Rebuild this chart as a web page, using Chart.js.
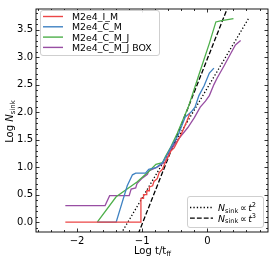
<!DOCTYPE html>
<html><head><meta charset="utf-8">
<script src="https://cdn.jsdelivr.net/npm/chart.js@4"></script>
<style>html,body{margin:0;padding:0;background:#fff}#wrap{width:274px;height:262px}</style>
</head><body><div id="wrap"><canvas id="c" width="274" height="262"></canvas></div>
<script>
// ---- data ----
const seriesLabels = ['M2e4_I_M', 'M2e4_C_M', 'M2e4_C_M_J', 'M2e4_C_M_J BOX'];
const redX = [-2.18,-1.02,-1.02,-0.98,-0.98,-0.93,-0.93,-0.89,-0.89,-0.84,-0.82,-0.77,-0.74,-0.69,-0.64,-0.56,-0.51,-0.40,-0.31,-0.27];
const redY = [0,0,0.43,0.43,0.50,0.50,0.57,0.57,0.64,0.66,0.74,0.79,0.90,0.96,1.10,1.29,1.35,1.60,1.85,1.97];
const blueX = [-1.69,-1.40,-1.23,-1.15,-1.10,-0.95,-0.90,-0.79,-0.69,-0.62,-0.56,-0.45,-0.34,-0.25,-0.19,-0.13,-0.05,0.03,0.10];
const blueY = [0,0,0.66,0.86,0.89,0.89,0.96,0.99,1.08,1.22,1.36,1.58,1.91,2.00,2.09,2.30,2.48,2.71,2.80];
const greenX = [-1.69,-1.40,-1.08,-0.90,-0.79,-0.69,-0.64,-0.56,-0.46,-0.29,-0.13,0.03,0.13,0.20,0.40];
const greenY = [0,0.46,0.73,0.92,1.05,1.08,1.20,1.37,1.62,2.10,2.68,3.25,3.64,3.66,3.70];
const purpleX = [-2.18,-1.57,-1.50,-1.20,-1.17,-1.10,-1.08,-1.00,-0.92,-0.90,-0.77,-0.64,-0.56,-0.45,-0.30,-0.20,-0.11,-0.03,0.03,0.10,0.15,0.25,0.36,0.43,0.51];
const purpleY = [0.30,0.30,0.48,0.48,0.60,0.62,0.70,0.80,0.87,0.93,1.00,1.10,1.32,1.50,1.72,1.90,2.09,2.20,2.30,2.50,2.62,2.83,3.07,3.22,3.30];
const sq2X = [-1.35, 0.63];   // N ∝ t^2 guide (dotted)
const sq2Y = [-0.26, 3.70];
const cu3X = [-1.10, 0.33];   // N ∝ t^3 guide (dashed)
const cu3Y = [-0.33, 3.96];
const xTicks = [-2, -1, 0];
const yTicks = [0, 0.5, 1.0, 1.5, 2.0, 2.5, 3.0, 3.5];

const colors = ['#ec4646', '#3f82c2', '#4daf4a', '#984ea3'];
const pts = (xs, ys) => xs.map((x, i) => ({x, y: ys[i]}));
const mk = (xs, ys, c, dash) => ({data: pts(xs, ys), borderColor: c, borderWidth: dash ? 1.3 : 1.3,
  borderDash: dash || [], pointRadius: 0, fill: false, tension: 0});

const FONT = 'DejaVu Sans';
const fmt = v => (v < 0 ? '\u2212' + Math.abs(v) : String(v));

function runs(ctx, x, y, parts) {
  for (const p of parts) {
    ctx.font = (p.it ? 'italic ' : '') + p.s + 'px "' + FONT + '"';
    ctx.fillText(p.t, x, y + (p.dy || 0));
    x += ctx.measureText(p.t).width + (p.gap || 0);
  }
  return x;
}
function runsWidth(ctx, parts) {
  let w = 0;
  for (const p of parts) { ctx.font = (p.it ? 'italic ' : '') + p.s + 'px "' + FONT + '"'; w += ctx.measureText(p.t).width + (p.gap || 0); }
  return w;
}
function rrect(ctx, x, y, w, h, r) {
  ctx.beginPath();
  ctx.moveTo(x + r, y); ctx.lineTo(x + w - r, y); ctx.quadraticCurveTo(x + w, y, x + w, y + r);
  ctx.lineTo(x + w, y + h - r); ctx.quadraticCurveTo(x + w, y + h, x + w - r, y + h);
  ctx.lineTo(x + r, y + h); ctx.quadraticCurveTo(x, y + h, x, y + h - r);
  ctx.lineTo(x, y + r); ctx.quadraticCurveTo(x, y, x + r, y); ctx.closePath();
}

const frame = {
  id: 'frame',
  afterDatasetsDraw(chart) {
    const {ctx, chartArea: a, scales: {x, y}} = chart;
    ctx.save();
    // box
    ctx.strokeStyle = '#000'; ctx.lineWidth = 0.9;
    ctx.strokeRect(a.left, a.top, a.right - a.left, a.bottom - a.top);
    // ticks (inward, all sides)
    ctx.lineWidth = 0.8;
    ctx.beginPath();
    const tx = (v, L) => { const p = Math.round(x.getPixelForValue(v)) + 0.5;
      ctx.moveTo(p, a.bottom); ctx.lineTo(p, a.bottom - L); ctx.moveTo(p, a.top); ctx.lineTo(p, a.top + L); };
    const ty = (v, L) => { const p = Math.round(y.getPixelForValue(v)) + 0.5;
      ctx.moveTo(a.left, p); ctx.lineTo(a.left + L, p); ctx.moveTo(a.right, p); ctx.lineTo(a.right - L, p); };
    for (let i = -13; i <= 4; i++) { const v = i * 0.2; if (v > x.min && v < x.max) tx(v, Math.abs(v - Math.round(v)) < 1e-6 ? 3.5 : 2); }
    for (let i = -1; i <= 38; i++) { const v = i * 0.1; if (v > y.min && v < y.max) ty(v, Math.abs(v * 2 - Math.round(v * 2)) < 1e-6 ? 3.5 : 2); }
    ctx.stroke();

    // legend 1
    ctx.fillStyle = 'rgba(255,255,255,0.85)'; ctx.strokeStyle = '#cfcfcf'; ctx.lineWidth = 1;
    rrect(ctx, 40.5, 10.5, 119, 45, 2.5); ctx.fill(); ctx.stroke();
    ctx.textBaseline = 'alphabetic'; ctx.textAlign = 'left';
    seriesLabels.forEach((lab, i) => {
      const b = 20 + 10.3 * i;
      ctx.strokeStyle = colors[i]; ctx.lineWidth = 1.4; ctx.setLineDash([]);
      ctx.beginPath(); ctx.moveTo(43, b - 3.5); ctx.lineTo(63, b - 3.5); ctx.stroke();
      ctx.fillStyle = '#000'; ctx.font = '9.4px "' + FONT + '"'; ctx.fillText(lab, 72, b);
    });

    // legend 2
    ctx.fillStyle = 'rgba(255,255,255,0.85)'; ctx.strokeStyle = '#cfcfcf'; ctx.lineWidth = 1;
    rrect(ctx, 187.5, 196.5, 76, 31, 2.5); ctx.fill(); ctx.stroke();
    const l2 = [{dash: [1.3, 2.1], sup: '2', b: 211}, {dash: [4.8, 2.1], sup: '3', b: 221.7}];
    l2.forEach(r => {
      ctx.strokeStyle = '#000'; ctx.lineWidth = 1.3; ctx.setLineDash(r.dash);
      ctx.beginPath(); ctx.moveTo(190, r.b - 3.5); ctx.lineTo(213, r.b - 3.5); ctx.stroke();
      ctx.setLineDash([]); ctx.fillStyle = '#000';
      runs(ctx, 218, r.b, [
        {t: 'N', s: 9.4, it: true}, {t: 'sink', s: 6.6, dy: 1.6, gap: 1.6},
        {t: '\u221D', s: 9.4, gap: 1.6}, {t: 't', s: 9.4, it: true}, {t: r.sup, s: 6.6, dy: -3.8}]);
    });

    // x title
    ctx.fillStyle = '#000';
    const xt = [{t: 'Log t/t', s: 10}, {t: 'ff', s: 7, dy: 1.8}];
    runs(ctx, (a.left + a.right) / 2 - runsWidth(ctx, xt) / 2 + 0.5, 254, xt);
    // y title
    const yt = [{t: 'Log ', s: 10}, {t: 'N', s: 10, it: true}, {t: 'sink', s: 7, dy: 1.8}];
    ctx.translate(13.3, (a.top + a.bottom) / 2 + 1);
    ctx.rotate(-Math.PI / 2);
    runs(ctx, -runsWidth(ctx, yt) / 2, 0, yt);
    ctx.restore();
  }
};

new Chart(document.getElementById('c'), {
  type: 'line',
  data: {datasets: [
    mk(redX, redY, colors[0]), mk(blueX, blueY, colors[1]), mk(greenX, greenY, colors[2]), mk(purpleX, purpleY, colors[3]),
    mk(sq2X, sq2Y, '#000', [1.3, 2.1]), mk(cu3X, cu3Y, '#000', [4.8, 2.1])
  ]},
  options: {
    responsive: false, animation: false, devicePixelRatio: 1,
    layout: {padding: {top: 5, right: 6, left: 0, bottom: 0}},
    plugins: {legend: {display: false}, tooltip: {enabled: false}},
    scales: {
      x: {type: 'linear', min: -2.63, max: 0.93,
        grid: {display: false, drawTicks: false}, border: {display: false},
        afterBuildTicks: s => { s.ticks = xTicks.map(v => ({value: v})); },
        afterFit: s => { s.height = 30; },
        ticks: {font: {family: FONT, size: 10}, color: '#000', padding: 3, maxRotation: 0, autoSkip: false, callback: v => fmt(v)}},
      y: {type: 'linear', min: -0.18, max: 3.875,
        grid: {display: false, drawTicks: false}, border: {display: false},
        afterBuildTicks: s => { s.ticks = yTicks.map(v => ({value: v})); },
        afterFit: s => { s.width = 36; },
        ticks: {font: {family: FONT, size: 10}, color: '#000', padding: 3, autoSkip: false, callback: v => Number(v).toFixed(1)}}
    }
  },
  plugins: [frame]
});
</script></body></html>
